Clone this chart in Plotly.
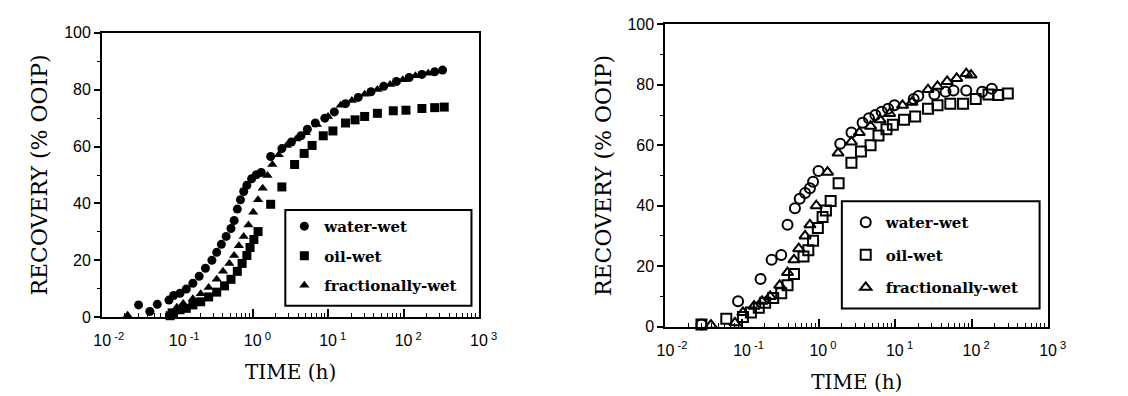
import plotly.graph_objects as go

# ---------------- data: left panel (filled symbols) ----------------
L_water_t = [0.0305, 0.043, 0.054, 0.077, 0.089, 0.108, 0.131, 0.160, 0.194, 0.235, 0.286, 0.331,
             0.382, 0.442, 0.512, 0.564, 0.621, 0.684, 0.755, 0.832, 0.962, 1.11, 1.29,
             1.72, 2.42, 3.24, 4.34, 5.27, 6.72, 8.99, 12.0, 16.9, 24.9, 36.8, 54.2, 80.0,
             118, 174, 257, 327]
L_water_r = [4.3, 2.0, 4.5, 6.0, 7.6, 8.4, 9.9, 11.9, 14.4, 17.2, 20.0, 22.8,
             25.6, 28.4, 31.2, 34.0, 38.0, 41.3, 44.2, 46.4, 48.7, 50.1, 50.9,
             56.5, 59.3, 61.6, 63.8, 66.1, 68.3, 70.0, 72.2, 75.1, 77.3, 79.3, 81.2, 82.9,
             84.3, 85.4, 86.3, 86.9]

L_oil_t = [0.080, 0.085, 0.108, 0.131, 0.160, 0.203, 0.259, 0.331, 0.421, 0.512, 0.621, 0.719,
           0.832, 0.916, 1.03, 1.17, 1.72, 2.42, 3.57, 4.78, 6.09, 8.56, 11.5, 16.9, 22.6,
           30.3, 44.7, 72.6, 107, 174, 257, 344]
L_oil_r = [0.5, 1.5, 2.6, 3.1, 4.3, 5.4, 7.1, 8.8, 11.0, 13.3, 16.1, 18.9,
           21.7, 24.5, 27.3, 30.1, 39.7, 45.8, 53.7, 57.6, 60.4, 63.8, 65.5, 68.3, 69.4,
           70.6, 71.7, 72.6, 72.8, 73.4, 73.7, 73.9]

L_frac_t = [0.0218, 0.098, 0.119, 0.160, 0.203, 0.259, 0.331, 0.401, 0.487, 0.564, 0.652, 0.755,
            0.873, 1.01, 1.17, 1.35, 1.56, 1.81, 2.20, 2.80, 3.75, 5.01, 7.05, 9.91,
            14.6, 20.5, 30.3, 44.7, 65.9, 97.1, 143, 211, 312]
L_frac_r = [0.7, 3.5, 4.8, 6.5, 8.2, 10.4, 13.3, 16.1, 18.9, 21.7, 25.1, 28.4,
            32.4, 36.9, 41.3, 45.3, 49.8, 53.7, 57.1, 60.4, 62.7, 64.9, 67.8, 70.6,
            74.5, 76.2, 78.4, 80.1, 81.8, 83.5, 84.9, 85.8, 86.6]

# ---------------- data: right panel (open symbols) ----------------
R_water_t = [0.0296, 0.089, 0.175, 0.244, 0.326, 0.394, 0.492, 0.568, 0.668, 0.772, 0.849, 1.0,
             1.92, 2.69, 3.76, 4.55, 5.52, 6.68, 8.10, 9.81, 17.5, 20.1, 32.6, 45.5, 57.9,
             84.9, 137, 183]
R_water_r = [0.7, 8.4, 15.8, 22.1, 23.7, 33.7, 39.2, 42.3, 44.2, 45.8, 47.9, 51.5,
             60.5, 64.2, 67.4, 68.9, 70.0, 71.1, 72.1, 73.2, 75.3, 76.3, 76.8, 77.7, 78.1,
             78.1, 77.7, 78.7]

R_oil_t = [0.0296, 0.0625, 0.103, 0.131, 0.166, 0.201, 0.256, 0.326, 0.394, 0.478, 0.637, 0.736,
           0.849, 0.98, 1.13, 1.25, 1.44, 1.83, 2.69, 3.58, 4.78, 6.07, 7.72, 9.35, 13.1,
           18.3, 26.9, 35.8, 52.6, 77.2, 113, 166, 222, 296]
R_oil_r = [0.7, 2.6, 3.2, 4.7, 6.3, 7.9, 9.5, 11.1, 13.7, 17.4, 23.2, 25.3,
           28.4, 32.6, 36.3, 38.4, 41.6, 47.4, 54.2, 57.9, 60.0, 63.2, 65.3, 66.8, 68.4,
           69.5, 72.1, 73.2, 73.7, 73.7, 75.3, 76.8, 76.6, 77.1]

R_frac_t = [0.0394, 0.081, 0.103, 0.144, 0.183, 0.233, 0.311, 0.394, 0.478, 0.552, 0.668, 0.772,
            0.935, 1.31, 1.80, 2.69, 3.41, 4.78, 6.37, 8.49, 12.5, 16.6, 26.9, 35.8, 47.8,
            63.7, 84.9, 98]
R_frac_r = [0.5, 1.3, 4.7, 6.8, 8.4, 10.0, 13.7, 17.9, 22.1, 25.8, 30.0, 33.7,
            40.0, 51.1, 57.4, 61.1, 64.2, 66.3, 68.4, 70.5, 73.2, 74.2, 78.4, 79.5, 81.1,
            82.1, 83.7, 83.2]

series_names = ["water-wet", "oil-wet", "fractionally-wet"]
x_tickvals = [0.01, 0.1, 1, 10, 100, 1000]
x_ticktext = ["&nbsp;&nbsp;&nbsp;10<sup> -2</sup>", "&nbsp;&nbsp;&nbsp;10<sup> -1</sup>",
              "&nbsp;&nbsp;10<sup> 0</sup>", "&nbsp;&nbsp;10<sup> 1</sup>",
              "&nbsp;&nbsp;10<sup> 2</sup>", "&nbsp;&nbsp;10<sup> 3</sup>"]
y_tickvals = [0, 20, 40, 60, 80, 100]
x_title = "TIME (h)"
y_title = "RECOVERY (% OOIP)"

W, H = 1128, 396
def px_x(p): return p / W
def px_y(p): return 1 - p / H

fig = go.Figure()

left_sets = [(L_water_t, L_water_r, "circle"), (L_oil_t, L_oil_r, "square"),
             (L_frac_t, L_frac_r, "triangle-up")]
for i, (t, r, sym) in enumerate(left_sets):
    fig.add_trace(go.Scatter(
        x=t, y=r, mode="markers", name="<b>" + series_names[i] + "</b>", xaxis="x", yaxis="y",
        legend="legend", legendgroup="L%d" % i, cliponaxis=False,
        marker=dict(symbol=sym, size=9, color="black", line=dict(width=0))))

right_sets = [(R_water_t, R_water_r, "circle-open"), (R_oil_t, R_oil_r, "square-open"),
              (R_frac_t, R_frac_r, "triangle-up-open")]
for i, (t, r, sym) in enumerate(right_sets):
    fig.add_trace(go.Scatter(
        x=t, y=r, mode="markers", name="<b>" + series_names[i] + "</b>", xaxis="x2", yaxis="y2",
        legend="legend2", legendgroup="R%d" % i, cliponaxis=False,
        marker=dict(symbol=sym, size=10, color="black", line=dict(width=2, color="black"))))

minor_x = [k * 10.0 ** e for e in range(-2, 3) for k in range(2, 10)]
tickfont = dict(family="Liberation Sans, Arial, sans-serif", size=16, color="black")
titlefont = dict(family="DejaVu Serif, Liberation Serif, serif", size=22, color="black")

def xaxis_cfg(domain, anchor):
    return dict(type="log", range=[-2, 3], domain=domain, anchor=anchor,
                tickmode="array", tickvals=x_tickvals, ticktext=x_ticktext,
                ticks="inside", ticklen=8, tickwidth=1.5, tickcolor="black",
                ticklabelstandoff=8,
                minor=dict(tickmode="array", tickvals=minor_x, ticks="inside",
                           ticklen=4, tickwidth=1, tickcolor="black"),
                showline=True, linecolor="black", linewidth=2, mirror=True,
                showgrid=False, zeroline=False, tickfont=tickfont,
                title=dict(text=x_title, font=dict(titlefont, size=20), standoff=17))

def yaxis_cfg(domain, anchor):
    return dict(range=[0, 100], domain=domain, anchor=anchor,
                tickmode="array", tickvals=y_tickvals,
                ticks="outside", ticklen=6, tickwidth=1.5, tickcolor="black",
                minor=dict(tickmode="array", tickvals=[10, 30, 50, 70, 90], ticks="outside",
                           ticklen=3, tickwidth=1, tickcolor="black"),
                showline=True, linecolor="black", linewidth=2, mirror=True,
                showgrid=False, zeroline=False, tickfont=tickfont,
                title=dict(text=y_title, font=titlefont, standoff=10))

legfont = dict(family="DejaVu Serif, Liberation Serif, serif", size=15, color="black")

fig.update_layout(
    width=W, height=H, margin=dict(l=0, r=0, t=0, b=0),
    paper_bgcolor="white", plot_bgcolor="white", showlegend=True,
    xaxis=xaxis_cfg([px_x(83), px_x(474)], "y"),
    yaxis=yaxis_cfg([px_y(323), px_y(26)], "x"),
    xaxis2=xaxis_cfg([px_x(667), px_x(1064)], "y2"),
    yaxis2=yaxis_cfg([px_y(333), px_y(17)], "x2"),
    legend=dict(x=px_x(272), y=px_y(211), xanchor="left", yanchor="top",
                bgcolor="rgba(0,0,0,0)", borderwidth=0, font=legfont,
                tracegroupgap=7, traceorder="grouped"),
    legend2=dict(x=px_x(854), y=px_y(207), xanchor="left", yanchor="top",
                 bgcolor="rgba(0,0,0,0)", borderwidth=0, font=legfont,
                 tracegroupgap=10, traceorder="grouped"),
    shapes=[
        dict(type="rect", xref="paper", yref="paper", x0=px_x(273), x1=px_x(466),
             y0=px_y(311), y1=px_y(211), line=dict(color="black", width=2)),
        dict(type="rect", xref="paper", yref="paper", x0=px_x(850), x1=px_x(1055),
             y0=px_y(314), y1=px_y(202), line=dict(color="black", width=2)),
    ],
)

fig.write_html("out.html", config={"displayModeBar": False},
               post_script="document.body.style.margin='0';document.body.style.overflow='hidden';")
